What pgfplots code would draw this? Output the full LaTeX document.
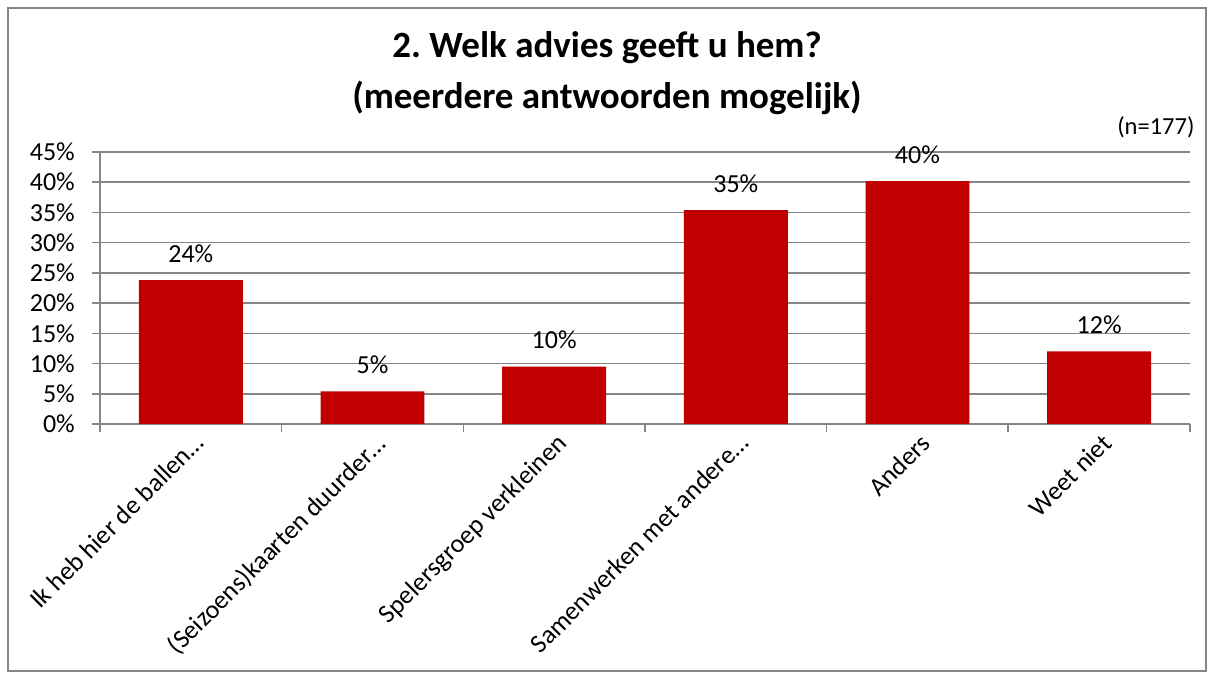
\documentclass[border=0pt]{standalone}
\usepackage{pgfplots}
\pgfplotsset{compat=1.18}
\usepackage{fontspec}
\setmainfont{Carlito}
\definecolor{barred}{HTML}{C00000}
\definecolor{axgray}{HTML}{868686}
\begin{document}
\frenchspacing
\begin{tikzpicture}[x=1pt,y=1pt]
\path[fill=white] (0,0) rectangle (1214,679);
\draw[axgray, line width=1.5pt] (8,8) rectangle (1206,671);
\node[font=\fontsize{37}{42}\selectfont\bfseries] at (607,631) {2. Welk advies geeft u hem?};
\node[font=\fontsize{37}{42}\selectfont\bfseries] at (607,581) {(meerdere antwoorden mogelijk)};
\node[font=\fontsize{24.5}{28}\selectfont, anchor=east] at (1198,552) {(n=177)};
\begin{axis}[
  at={(100pt,255pt)}, anchor=south west,
  scale only axis, width=1090pt, height=272pt,
  xmin=-0.5, xmax=5.5, ymin=0, ymax=45,
  axis x line*=bottom, axis y line*=left,
  axis line style={axgray, line width=1.6pt},
  xtick={0,1,2,3,4,5},
  xticklabels={Ik heb hier de ballen…,(Seizoens)kaarten duurder…,Spelersgroep verkleinen,Samenwerken met andere…,Anders,Weet niet},
  minor xtick={-0.5,0.5,1.5,2.5,3.5,4.5,5.5},
  major x tick style={draw=none},
  minor x tick style={axgray, line width=1.6pt},
  ytick={0,5,...,45},
  yticklabel={\pgfmathprintnumber{\tick}\%},
  ytick style={axgray, line width=1.6pt},
  tick align=outside, major tick length=8pt, minor tick length=8pt,
  ymajorgrids, grid style={axgray, line width=1.6pt},
  /pgf/number format/assume math mode=true,
  ticklabel style={font=\fontsize{26}{30}\selectfont},
  xticklabel style={rotate=45, anchor=north east, inner sep=1pt, xshift=2pt},
  yticklabel style={inner sep=3pt, xshift=-14pt},
  ybar, bar width=0.572,
  nodes near coords={\pgfmathprintnumber[fixed,precision=0]{\pgfplotspointmeta}\%},
  nodes near coords style={font=\fontsize{26}{30}\selectfont, yshift=14pt},
  point meta=y,
  clip=false,
]
\addplot[fill=barred, draw=none] coordinates {(0,23.8) (1,5.4) (2,9.5) (3,35.4) (4,40.2) (5,12.0)};
\end{axis}
\end{tikzpicture}
\end{document}
